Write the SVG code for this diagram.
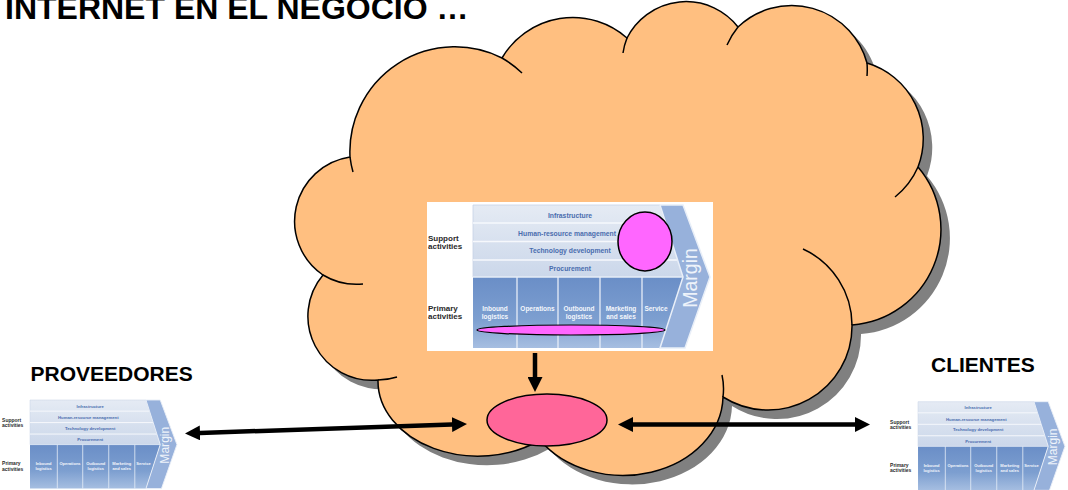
<svg xmlns="http://www.w3.org/2000/svg" xmlns:xlink="http://www.w3.org/1999/xlink" width="1068" height="490" viewBox="0 0 1068 490">
<style>
.title{font-family:"Liberation Sans",Arial,sans-serif;font-weight:bold;fill:#000}
.vs{font-family:"Liberation Sans",Arial,sans-serif;font-weight:bold;font-size:6.8px;fill:#4A6DAE;text-anchor:middle}
.vp{font-family:"Liberation Sans",Arial,sans-serif;font-weight:bold;font-size:6.5px;fill:#F4F7FC;text-anchor:middle}
.vl{font-family:"Liberation Sans",Arial,sans-serif;font-weight:bold;font-size:8px;fill:#2A2A2A}
.vm{font-family:"Liberation Sans",Arial,sans-serif;font-size:19.5px;fill:#EEF3FA;text-anchor:middle}
.edge{fill:none;stroke:#000;stroke-width:1.5}
.arrow{fill:none;stroke:#000;stroke-width:4.5}
</style>
<defs>
<linearGradient id="gSup" x1="0" y1="0" x2="0" y2="1"><stop offset="0" stop-color="#E5EBF4"/><stop offset="1" stop-color="#CBD7EA"/></linearGradient>
<linearGradient id="gPri" x1="0" y1="0" x2="0" y2="1"><stop offset="0" stop-color="#6A8EC7"/><stop offset="0.6" stop-color="#7D9FD0"/><stop offset="1" stop-color="#A6BEE1"/></linearGradient>
<marker id="ah" viewBox="0 0 15 15" markerWidth="15" markerHeight="15" markerUnits="userSpaceOnUse" refX="7" refY="7.5" orient="auto-start-reverse"><path d="M0,0 L15,7.5 L0,15 z" fill="#000"/></marker>
<path id="cloudPath" d="M 323 275 A 65 65 0 0 1 350 157 A 105 105 0 0 1 502 58 A 82 82 0 0 1 627 38 A 66 66 0 0 1 738 27 A 78 78 0 0 1 867 63 A 79 79 0 0 1 918 167 A 96 96 0 0 1 852 325 A 84 84 0 0 1 723 397 A 100 80 0 0 1 540 440 A 100 75 0 0 1 378 380 A 64 64 0 0 1 323 275 Z"/>
<g id="vc">
<rect x="0" y="0" width="286" height="149" fill="#fff"/>
<polygon points="46,3 233,3 256,75 46,75" fill="url(#gSup)" stroke="#C6D2E6" stroke-width="0.8"/>
<g stroke="#F6F8FC" stroke-width="1.6">
<line x1="46" y1="21" x2="238.7" y2="21"/>
<line x1="46" y1="39.5" x2="244.7" y2="39.5"/>
<line x1="46" y1="58" x2="250.6" y2="58"/>
</g>
<polygon points="46,75 256,75 233,146 46,146" fill="url(#gPri)"/>
<g stroke="#E6EDF7" stroke-width="1.3">
<line x1="46" y1="75" x2="256" y2="75"/>
<line x1="90" y1="75" x2="90" y2="146"/>
<line x1="131" y1="75" x2="131" y2="146"/>
<line x1="173" y1="75" x2="173" y2="146"/>
<line x1="215" y1="75" x2="215" y2="146"/>
</g>
<polygon points="233,3 256,3 283,75 258,146 233,146 256,75" fill="#97B1DB" stroke="#E9EFF8" stroke-width="1.5"/>
<text class="vm" transform="translate(270,76) rotate(-90)">Margin</text>
<text class="vs" x="143" y="15.5">Infrastructure</text>
<text class="vs" x="140" y="33.5">Human-resource management</text>
<text class="vs" x="143" y="51">Technology development</text>
<text class="vs" x="143" y="69">Procurement</text>
<text class="vl" x="1" y="38.5">Support</text>
<text class="vl" x="1" y="47">activities</text>
<text class="vl" x="1" y="108.5">Primary</text>
<text class="vl" x="1" y="117">activities</text>
<text class="vp" x="68" y="108.5">Inbound</text>
<text class="vp" x="68" y="116.5">logistics</text>
<text class="vp" x="110.5" y="108.5">Operations</text>
<text class="vp" x="152" y="108.5">Outbound</text>
<text class="vp" x="152" y="116.5">logistics</text>
<text class="vp" x="194" y="108.5">Marketing</text>
<text class="vp" x="194" y="116.5">and sales</text>
<text class="vp" x="229" y="108.5">Service</text>
</g>
</defs>

<g id="title">
<text class="title" x="5" y="18.5" font-size="32">INTERNET EN EL NEGOCIO …</text>
</g>

<g id="cloud">
<use xlink:href="#cloudPath" href="#cloudPath" transform="translate(9,9)" fill="#808080"/>
<use xlink:href="#cloudPath" href="#cloudPath" fill="#FFBF80" stroke="#000" stroke-width="1.5"/>
<path class="edge" d="M 350 157 A 105 105 0 0 0 353 172 M 502 58 A 105 105 0 0 1 522 73 M 627 38 A 66 66 0 0 0 623 53 M 738 27 A 78 78 0 0 0 727 45 M 867 63 A 78 78 0 0 1 867 76 M 918 167 A 79 79 0 0 1 895 197 M 852 325 A 84 84 0 0 0 803 249 M 723 397 A 100 80 0 0 0 722 375 M 378 380 A 64 64 0 0 0 397 377 M 323 275 A 65 65 0 0 0 363 284"/>
</g>

<g id="valuechain-main">
<use xlink:href="#vc" href="#vc" transform="translate(427,202)"/>
</g>

<g id="pink-circle">
<ellipse cx="645" cy="241.5" rx="27" ry="29.5" fill="#FF66FF" stroke="#000" stroke-width="1.5"/>
</g>

<g id="pink-bar">
<ellipse cx="571" cy="330" rx="94" ry="5" fill="#FF66FF" stroke="#000" stroke-width="1.2"/>
</g>

<g id="hub">
<ellipse cx="547" cy="420" rx="60" ry="26" fill="#FF6699" stroke="#000" stroke-width="1.5"/>
</g>

<g id="proveedores">
<text class="title" x="30.5" y="381" font-size="21">PROVEEDORES</text>
<use xlink:href="#vc" href="#vc" transform="translate(1.5,398.1) scale(0.62)"/>
</g>

<g id="clientes">
<text class="title" x="931" y="372" font-size="21">CLIENTES</text>
<use xlink:href="#vc" href="#vc" transform="translate(889.5,399.8) scale(0.62)"/>
</g>

<g id="connectors">
<line class="arrow" x1="535" y1="353" x2="535" y2="384" marker-end="url(#ah)"/>
<line class="arrow" x1="193" y1="433.2" x2="459" y2="424.3" marker-start="url(#ah)" marker-end="url(#ah)"/>
<line class="arrow" x1="626" y1="424.5" x2="862" y2="424.5" marker-start="url(#ah)" marker-end="url(#ah)"/>
</g>
</svg>
